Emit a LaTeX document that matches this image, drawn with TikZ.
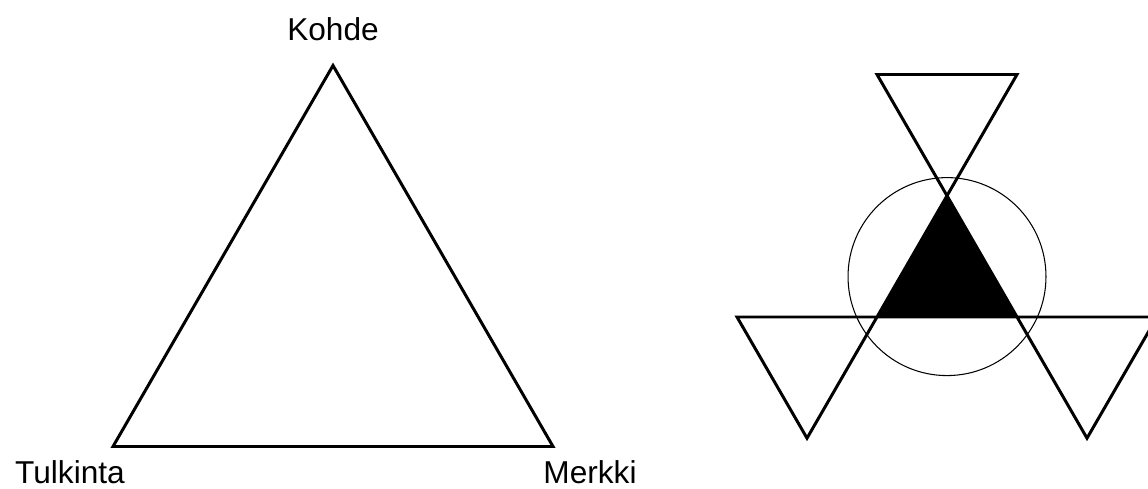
\documentclass[tikz,border=0pt]{standalone}
\usepackage{fontspec}
\setmainfont{Liberation Sans}
\usetikzlibrary{positioning}
\tikzset{
  side/.style ={line width=1.7pt,line join=miter},
  ring/.style ={line width=0.6pt},
  lbl/.style  ={font=\fontsize{18}{20}\selectfont,inner sep=0pt,anchor=base},
}
\begin{document}
\begin{tikzpicture}[x=0.02cm,y=-0.02cm]
  \useasboundingbox (0,0) rectangle (1148,489);
  % left triangle
  \coordinate (K) at (333,65.5);
  \coordinate (T) at (113,446.5);
  \coordinate (M) at (553,446.5);
  \draw[side] (K) -- (T) -- (M) -- cycle;
  \node[lbl] (kohde) at (333,41) {Kohde};
  \node[lbl] (tulkinta) at (70,483) {Tulkinta};
  \node[lbl] (merkki) at (590,483) {Merkki};
  % right figure
  \clip (0,0) rectangle (1148,489);
  \coordinate (A) at (947,195.8);
  \coordinate (B) at (877,317);
  \coordinate (C) at (1017,317);
  \fill (A) -- (B) -- (C) -- cycle;
  \draw[ring] (947,276.6) circle[radius=1.98cm];
  \draw[side] (877,74.5) -- (1017,74.5) -- (807,438.2) -- (737,317)
    -- (1157,317) -- (1087,438.2) -- cycle;
\end{tikzpicture}
\end{document}
